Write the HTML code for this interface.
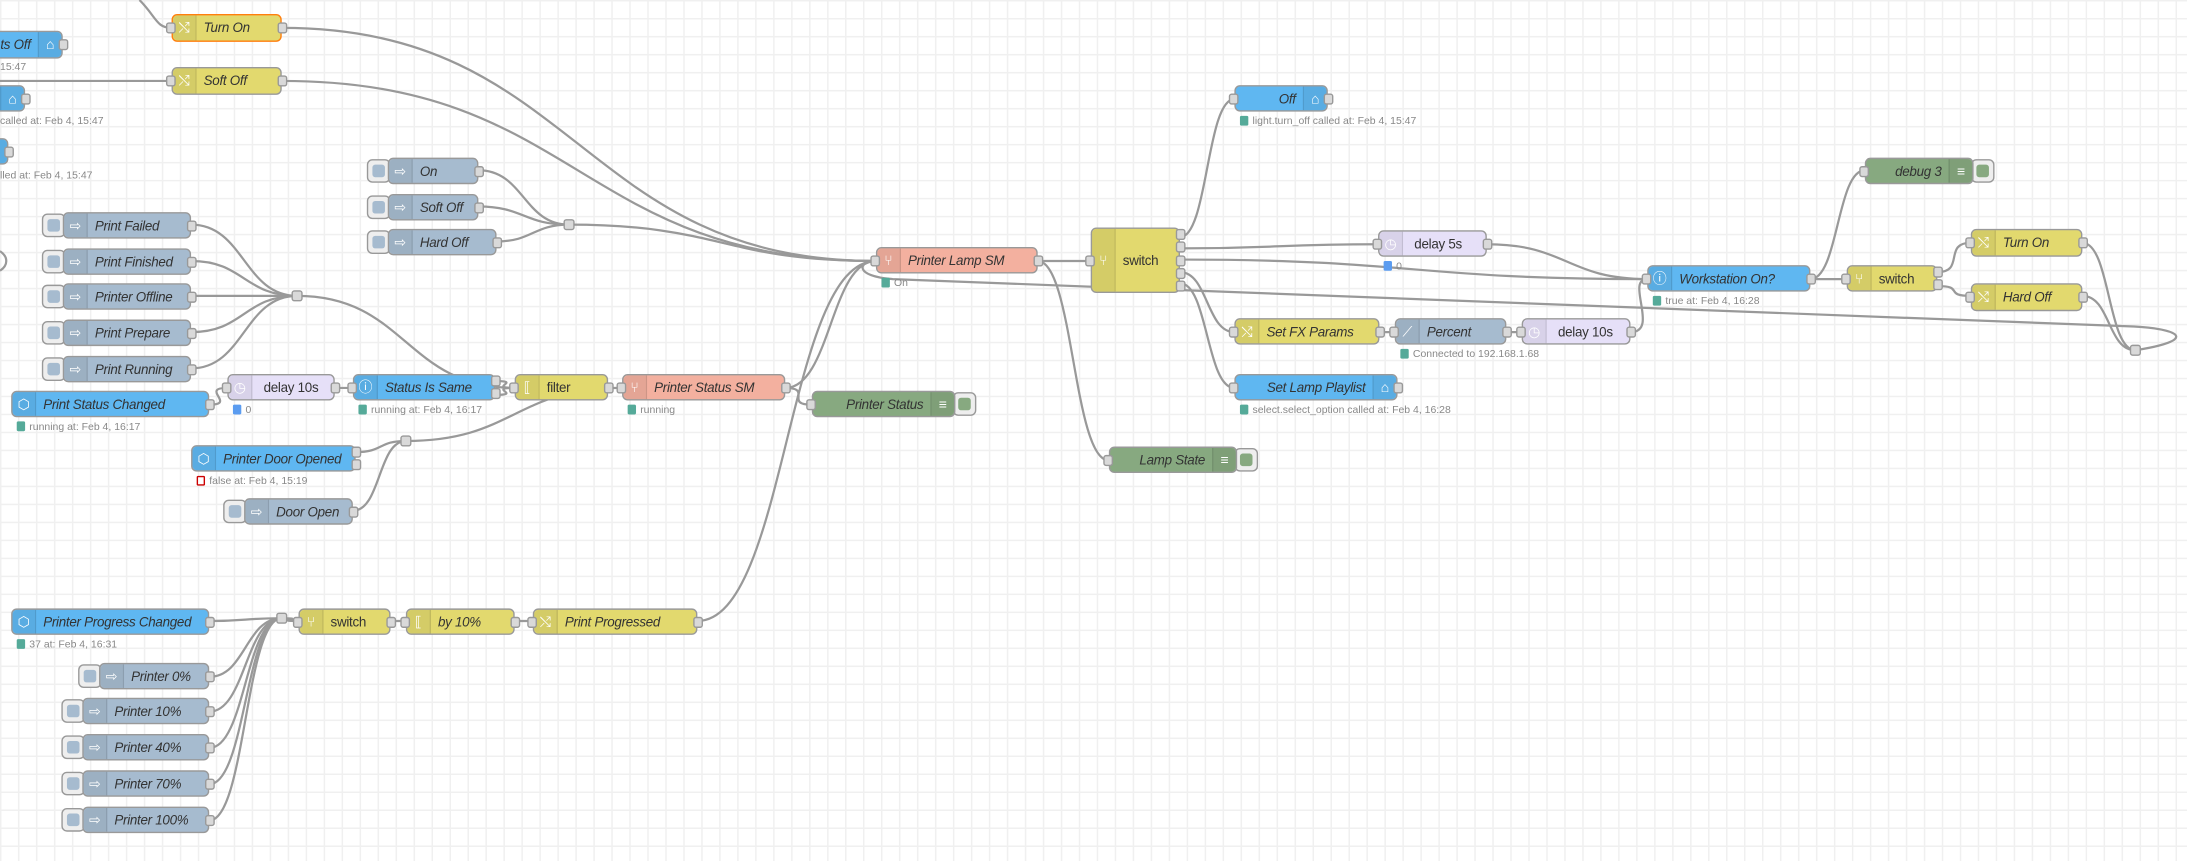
<!DOCTYPE html>
<html><head><meta charset="utf-8">
<style>
html,body{margin:0;padding:0;width:2187px;height:861px;overflow:hidden;background:#fff}
#w{position:absolute;left:0;top:0;width:1568px;height:617px;transform:scale(1.39477,1.39546);transform-origin:0 0;
background-color:#fff;
background-image:linear-gradient(#f0f0f0 1px,transparent 1px),linear-gradient(90deg,#f0f0f0 1px,transparent 1px);
background-size:12.9px 12.9px;font-family:"Liberation Sans",sans-serif}
.n{position:absolute;border:1px solid #999;border-radius:4px;box-sizing:border-box;overflow:visible}
.ic{position:absolute;top:0;bottom:0;width:16px;background:rgba(0,0,0,0.06);color:#fff;font-size:10px;text-align:center}
.ic.l{left:0;border-right:1px solid rgba(0,0,0,0.1);border-radius:4px 0 0 4px}
.ic.r{right:0;border-left:1px solid rgba(0,0,0,0.1);border-radius:0 4px 4px 0}
.lb{position:absolute;top:0;font-size:9.6px;color:#333;white-space:nowrap;letter-spacing:-0.2px}
.p{position:absolute;width:7px;height:8px;background:#d9d9d9;border:1px solid #999;border-radius:2px;box-sizing:border-box}
.bt{position:absolute;width:17px;border:1px solid #999;border-radius:4px;background:#eee;box-sizing:border-box}
.bt i{position:absolute;left:3px;top:3px;right:3px;bottom:3px;border-radius:2px}
.st{position:absolute;font-size:7.5px;color:#888;white-space:nowrap}
.st b{display:inline-block;width:6px;height:7px;border-radius:1px;margin-right:3px;vertical-align:-1px}
.j{position:absolute;width:8px;height:8px;background:#d9d9d9;border:1px solid #999;border-radius:2px;box-sizing:border-box}
svg{position:absolute;left:0;top:0}
</style></head><body><div id="w">
<svg width="1568" height="617" id="sv"></svg>
</div>
<script>
var W=document.getElementById('w'),S=document.getElementById('sv');
var C={inj:'#a6bbcf',chg:'#e2d96e',dl:'#e6e0f8',ha:'#5fb7f1',sm:'#f3b09f',dbg:'#87a980'};
function node(x,y,w,h,col,label,o){o=o||{};
 var d=document.createElement('div');d.className='n';
 d.style.cssText='left:'+x+'px;top:'+y+'px;width:'+w+'px;height:'+h+'px;background:'+C[col]+(o.sel?';border:1.5px solid #ff7f0e':'');
 var icr=o.icr;
 var ic=document.createElement('div');ic.className='ic '+(icr?'r':'l');ic.style.lineHeight=h+'px';ic.textContent=o.g||'⇨';d.appendChild(ic);
 var lb=document.createElement('div');lb.className='lb';lb.textContent=label;
 lb.style.lineHeight=h+'px';lb.style.fontStyle=o.ni?'normal':'italic';
 if(icr){lb.style.right='22px';}else lb.style.left=(o.ll||22)+'px';
 d.appendChild(lb);W.appendChild(d);
 if(o.inp){port(x-4,y+h/2-4);}
 var no=o.outs===undefined?1:o.outs;
 for(var i=0;i<no;i++){var yy=no==1?y+h/2-4:y+(h-no*8)/(no+1)*(i+1)+8*i;port(x+w-3,yy);}
 if(o.btn){var b=document.createElement('div');b.className='bt';b.style.cssText='left:'+(x-15)+'px;top:'+(y+1)+'px;height:'+(h-2)+'px';b.innerHTML='<i style="background:'+C.inj+'"></i>';W.insertBefore(b,d);}
 if(o.dbtn){var b=document.createElement('div');b.className='bt';b.style.cssText='left:'+(x+w-2)+'px;top:'+(y+1)+'px;height:'+(h-2)+'px';b.innerHTML='<i style="background:'+C.dbg+'"></i>';W.insertBefore(b,d);}
 if(o.st){var s=document.createElement('div');s.className='st';s.style.cssText='left:'+(x+4)+'px;top:'+(y+h+2)+'px';
  var sc=o.sc||'#5a9';var bs=o.sc=='red'?'background:#fff;border:1.5px solid #c00;box-sizing:border-box':'background:'+sc;
  s.innerHTML='<b style="'+bs+'"></b>'+o.st;W.appendChild(s);}
}
function port(x,y){var p=document.createElement('div');p.className='p';p.style.cssText='left:'+x+'px;top:'+y+'px';W.appendChild(p);}
function junc(x,y){var p=document.createElement('div');p.className='j';p.style.cssText='left:'+(x-4)+'px;top:'+(y-4)+'px';W.appendChild(p);}
function txt(x,y,t){var s=document.createElement('div');s.className='st';s.style.cssText='left:'+x+'px;top:'+y+'px';s.textContent=t;W.appendChild(s);}
var P='';
function wr(x1,y1,x2,y2){var dx=Math.abs(x2-x1),d=Math.max(20,dx*0.5);if(x2<x1+10)d=Math.max(30,Math.abs(y2-y1)*0.3);
 P+='<path d="M'+x1+' '+y1+' C'+(x1+d)+' '+y1+' '+(x2-d)+' '+y2+' '+x2+' '+y2+'"/>';}
function raw(p){P+='<path d="'+p+'"/>';}
raw('M100 0 C112 12 112 20 123 20');
wr(202,20,628,187);raw('M0 58 L123 58');wr(202,58,628,187);
wr(343,122,408,161);wr(343,148,408,161);wr(356,173,408,161);wr(408,161,628,187);
[161,187,212,238,264].forEach(function(y){wr(137,y,213,212)});
wr(213,212,369,278);
wr(150,290,163,278);wr(240,278,253,278);wr(355,273,369,278);wr(355,283,369,278);
wr(436,278,446,278);wr(563,278,628,187);wr(563,278,582,290);
wr(255,324,291,316);wr(253,366,291,316);wr(291,316,446,278);
wr(500,445,628,187);
wr(744,187,782,187);wr(744,187,795,330);
wr(846,170,885,71);wr(846,178,988,175);wr(846,186,1181,200);wr(846,195,885,238);wr(846,203,885,278);
wr(1066,175,1181,200);wr(989,238,1000,238);wr(1080,238,1091,238);
raw('M1169 238 C1190 238 1165 200 1181 200');
wr(1298,200,1324,200);wr(1298,200,1337,122);
wr(1389,195,1413,174);wr(1389,205,1413,212);
wr(1493,174,1531,251);wr(1493,212,1531,251);
raw('M1531 251 C1575 244 1565 236 1530 234 L640 200 C612 198 615 187 628 187');
[445,485,510,536,562,588].forEach(function(y){wr(150,y,202,443)});
wr(202,443,214,445);wr(280,445,291,445);wr(369,445,382,445);
raw('M0 180 C6 184 6 190 0 194');
S.innerHTML='<g fill="none" stroke="#999" stroke-width="1.6">'+P+'</g>';
node(123,10,79,20,'chg','Turn On',{inp:1,sel:1,g:'⤭'});
node(-40,22,85,20,'ha','ts Off',{icr:1,g:'⌂'});
txt(0,43,'15:47');
node(123,48,79,20,'chg','Soft Off',{inp:1,g:'⤭'});
node(-60,61,78,19,'ha','',{icr:1,g:'⌂'});
node(-80,99,86,19,'ha','',{icr:1,g:'⌂'});
txt(0,82,'called at: Feb 4, 15:47');
txt(0,121,'lled at: Feb 4, 15:47');
node(278,113,65,19,'inj','On',{btn:1});
node(278,139,65,19,'inj','Soft Off',{btn:1});
node(278,164,78,19,'inj','Hard Off',{btn:1});
junc(408,161);
node(45,152,92,19,'inj','Print Failed',{btn:1});
node(45,178,92,19,'inj','Print Finished',{btn:1});
node(45,203,92,19,'inj','Printer Offline',{btn:1});
node(45,229,92,19,'inj','Print Prepare',{btn:1});
node(45,255,92,19,'inj','Print Running',{btn:1});
junc(213,212);
node(8,280,142,19,'ha','Print Status Changed',{g:'⬡',st:'running at: Feb 4, 16:17'});
node(163,268,77,19,'dl','delay 10s',{inp:1,ni:1,g:'◷',ll:25,st:'0',sc:'#5b9cf0'});
node(253,268,102,19,'ha','Status Is Same',{inp:1,outs:2,g:'ⓘ',st:'running at: Feb 4, 16:17'});
node(369,268,67,19,'chg','filter',{inp:1,ni:1,g:'⟦'});
node(446,268,117,19,'sm','Printer Status SM',{inp:1,g:'⑂',st:'running'});
node(582,280,103,19,'dbg','Printer Status',{inp:1,icr:1,outs:0,g:'≡',dbtn:1});
node(137,319,118,19,'ha','Printer Door Opened',{g:'⬡',outs:2,st:'false at: Feb 4, 15:19',sc:'red'});
node(175,357,78,19,'inj','Door Open',{btn:1});
junc(291,316);
node(628,177,116,19,'sm','Printer Lamp SM',{inp:1,g:'⑂',st:'On'});
node(782,163,64,47,'chg','switch',{inp:1,ni:1,outs:5,g:'⑂'});
node(885,61,67,19,'ha','Off',{inp:1,icr:1,outs:1,g:'⌂',st:'light.turn_off called at: Feb 4, 15:47'});
node(988,165,78,19,'dl','delay 5s',{inp:1,ni:1,g:'◷',ll:25,st:'0',sc:'#5b9cf0'});
node(1181,190,117,19,'ha','Workstation On?',{inp:1,g:'ⓘ',st:'true at: Feb 4, 16:28'});
node(1324,190,65,19,'chg','switch',{inp:1,ni:1,outs:2,g:'⑂'});
node(1413,164,80,20,'chg','Turn On',{inp:1,g:'⤭'});
node(1413,203,80,20,'chg','Hard Off',{inp:1,g:'⤭'});
junc(1531,251);
node(1337,113,78,19,'dbg','debug 3',{inp:1,icr:1,outs:0,g:'≡',dbtn:1});
node(885,228,104,19,'chg','Set FX Params',{inp:1,g:'⤭'});
node(1000,228,80,19,'inj','Percent',{inp:1,g:'⟋',st:'Connected to 192.168.1.68'});
node(1091,228,78,19,'dl','delay 10s',{inp:1,ni:1,g:'◷',ll:25});
node(885,268,117,19,'ha','Set Lamp Playlist',{inp:1,icr:1,g:'⌂',st:'select.select_option called at: Feb 4, 16:28'});
node(795,320,92,19,'dbg','Lamp State',{inp:1,icr:1,outs:0,g:'≡',dbtn:1});
node(8,436,142,19,'ha','Printer Progress Changed',{g:'⬡',st:'37 at: Feb 4, 16:31'});
junc(202,443);
node(214,436,66,19,'chg','switch',{inp:1,ni:1,g:'⑂'});
node(291,436,78,19,'chg','by 10%',{inp:1,g:'⟦'});
node(382,436,118,19,'chg','Print Progressed',{inp:1,g:'⤭'});
node(71,475,79,19,'inj','Printer 0%',{btn:1});
node(59,500,91,19,'inj','Printer 10%',{btn:1});
node(59,526,91,19,'inj','Printer 40%',{btn:1});
node(59,552,91,19,'inj','Printer 70%',{btn:1});
node(59,578,91,19,'inj','Printer 100%',{btn:1});
</script>
</body></html>
